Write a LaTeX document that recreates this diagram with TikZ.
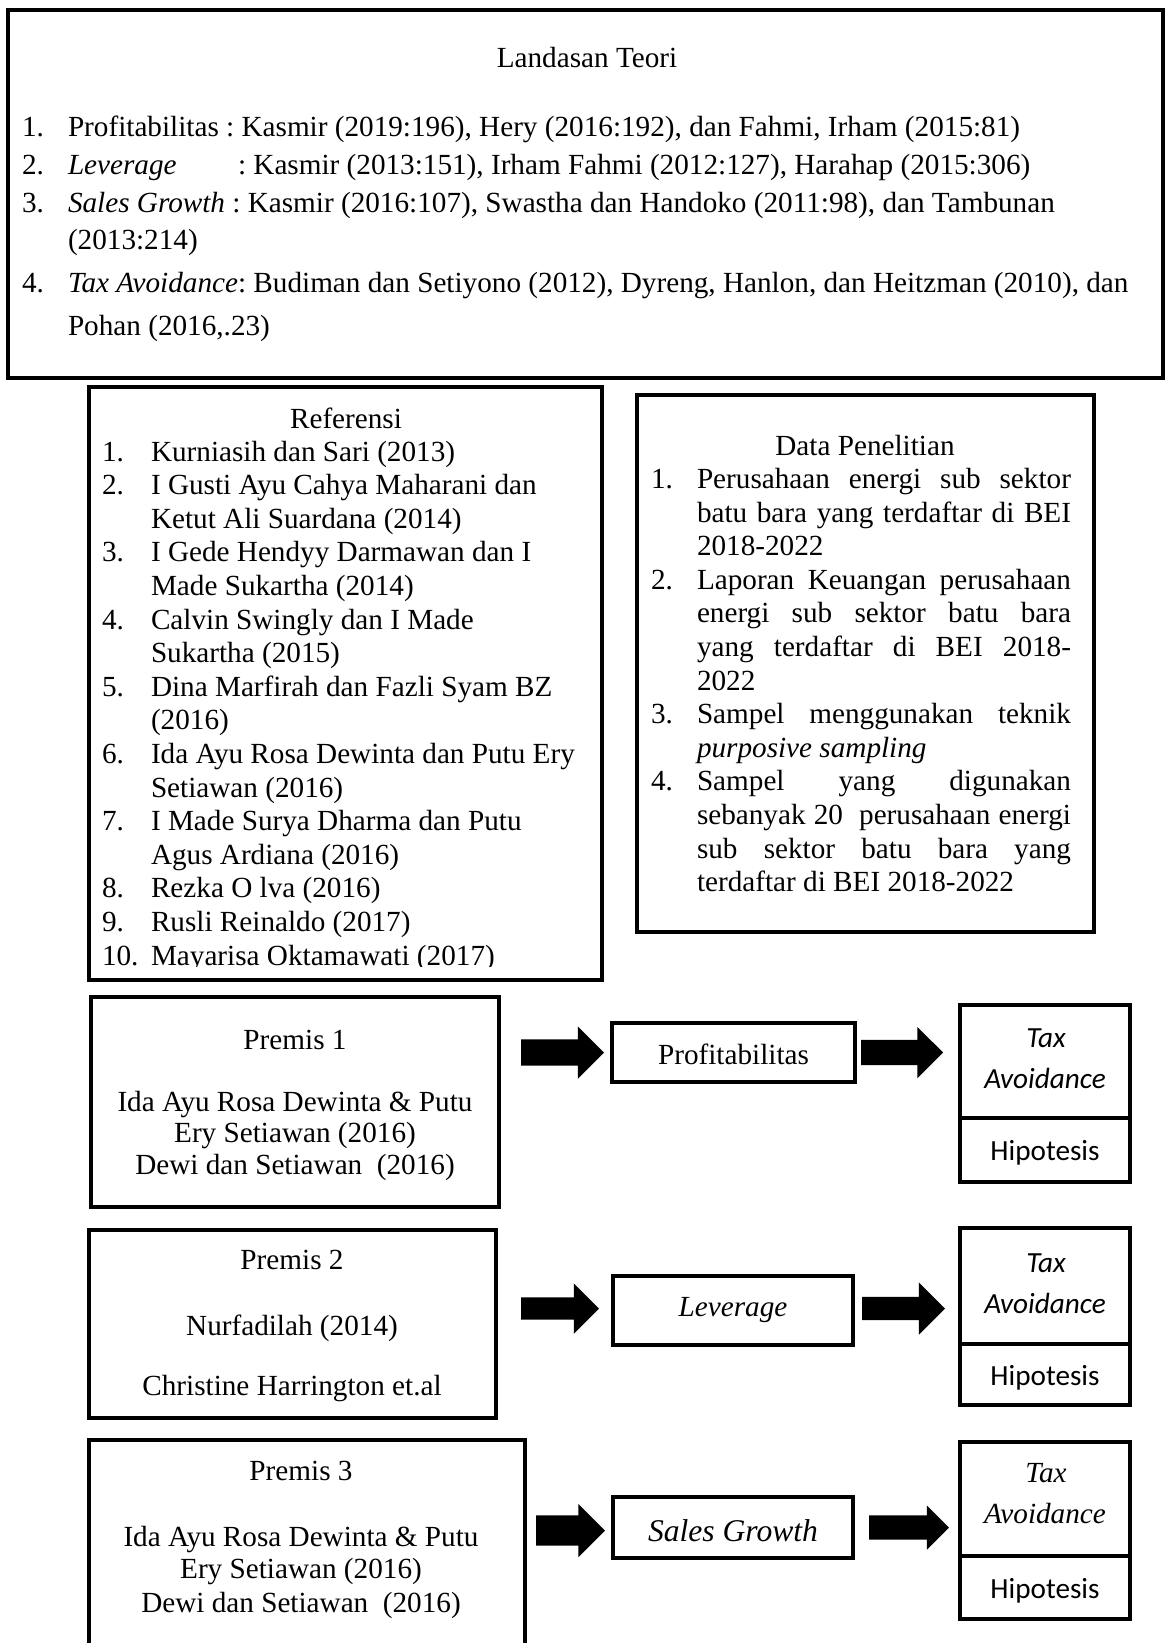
\documentclass[tikz,border=0pt]{standalone}
\usepackage{fontspec}
\setmainfont{Liberation Serif}
\newfontfamily\calib{Carlito}
\usetikzlibrary{shapes.arrows,calc}
\newcommand\jline[1]{\makebox[374pt][s]{#1}}
\frenchspacing
\begin{document}
\frenchspacing
\begin{tikzpicture}[x=1pt,y=-1pt,
  every node/.style={inner sep=0pt, outer sep=0pt, font=\fontsize{29.2}{33.6}\selectfont},
  box/.style={draw, line width=4.5pt, anchor=north west},
  txt/.style={anchor=base west},
  ctxt/.style={anchor=base},
  barrow/.style={single arrow, fill=black, draw=none, inner sep=0pt, anchor=tip, shape border rotate=0}]
\fill[white] (0,0) rectangle (1165,1643);
\useasboundingbox (0,0) rectangle (1165,1643);

% ---------- Landasan Teori ----------
\node[box, minimum width=1155pt, minimum height=368pt] (top) at (8,10) {};
\node[ctxt] (lt) at (587,68) {Landasan Teori};
\node[txt] (tn1) at (22,136) {1.};
\node[txt] (tl1) at (68,136) {Profitabilitas : Kasmir (2019:196), Hery (2016:192), dan Fahmi, Irham (2015:81)};
\node[txt] (tn2) at (22,174) {2.};
\node[txt] (tl2) at (68,174) {\textit{Leverage}};
\node[txt] (tl2b) at (238,174) {: Kasmir (2013:151), Irham Fahmi (2012:127), Harahap (2015:306)};
\node[txt] (tn3) at (22,212) {3.};
\node[txt] (tl3) at (68,212) {\textit{Sales Growth} : Kasmir (2016:107), Swastha dan Handoko (2011:98), dan Tambunan};
\node[txt] (tl3b) at (68,249) {(2013:214)};
\node[txt] (tn4) at (22,292) {4.};
\node[txt] (tl4) at (68,292) {\textit{Tax Avoidance}: Budiman dan Setiyono (2012), Dyreng, Hanlon, dan Heitzman (2010), dan};
\node[txt] (tl4b) at (68,335) {Pohan (2016,.23)};

% ---------- Referensi ----------
\node[box, minimum width=513pt, minimum height=593pt] (ref) at (89,387) {};
\node[ctxt] (refh) at (346,428) {Referensi};
\begin{scope}
\clip (89,387) rectangle (602,966);
\foreach \nm/\tx [count=\i from 0] in {
  {1.}/{Kurniasih dan Sari (2013)},
  {2.}/{I Gusti Ayu Cahya Maharani dan},
  {}/{Ketut Ali Suardana (2014)},
  {3.}/{I Gede Hendyy Darmawan dan I},
  {}/{Made Sukartha (2014)},
  {4.}/{Calvin Swingly dan I Made},
  {}/{Sukartha (2015)},
  {5.}/{Dina Marfirah dan Fazli Syam BZ},
  {}/{(2016)},
  {6.}/{Ida Ayu Rosa Dewinta dan Putu Ery},
  {}/{Setiawan (2016)},
  {7.}/{I Made Surya Dharma dan Putu},
  {}/{Agus Ardiana (2016)},
  {8.}/{Rezka O lva (2016)},
  {9.}/{Rusli Reinaldo (2017)},
  {10.}/{Mayarisa Oktamawati (2017)}}
{
  \node[txt] (rn\i) at (102,{461+33.6*\i}) {\nm};
  \node[txt] (rt\i) at (151,{461+33.6*\i}) {\tx};
}
\end{scope}

% ---------- Data Penelitian ----------
\node[box, minimum width=457pt, minimum height=537pt] (data) at (637,395) {};
\node[ctxt] (datah) at (865,455) {Data Penelitian};
\foreach \nm/\tx [count=\i from 0] in {
  {1.}/{\jline{Perusahaan energi sub sektor}},
  {}/{\jline{batu bara yang terdaftar di BEI}},
  {}/{2018-2022},
  {2.}/{\jline{Laporan Keuangan perusahaan}},
  {}/{\jline{energi sub sektor batu bara}},
  {}/{\jline{yang terdaftar di BEI 2018-}},
  {}/{2022},
  {3.}/{\jline{Sampel menggunakan teknik}},
  {}/{\textit{purposive sampling}},
  {4.}/{\jline{Sampel yang digunakan}},
  {}/{\jline{sebanyak 20\ \ perusahaan energi}},
  {}/{\jline{sub sektor batu bara yang}},
  {}/{terdaftar di BEI 2018-2022}}
{
  \node[txt] (dn\i) at (651,{488.5+33.6*\i}) {\nm};
  \node[txt] (dt\i) at (697,{488.5+33.6*\i}) {\tx};
}

% ---------- Row 1 ----------
\node[box, minimum width=408pt, minimum height=210pt] (p1) at (91,997) {};
\node[ctxt] (p1a) at (295,1049) {Premis 1};
\node[ctxt] (p1b) at (295,1111) {Ida Ayu Rosa Dewinta \& Putu};
\node[ctxt] (p1c) at (295,1142) {Ery Setiawan (2016)};
\node[ctxt] (p1d) at (295,1174) {Dewi dan Setiawan\ \ (2016)};
\node[box, minimum width=243pt, minimum height=59pt] (v1) at (612,1023) {};
\node (v1t) at ($(v1.center)+(0,2)$) {Profitabilitas};
\node[box, minimum width=170pt, minimum height=113pt] (t1) at (960,1005) {};
\node[box, minimum width=170pt, minimum height=64pt] (h1) at (960,1118) {};
\node (h1t) at ($(h1.center)+(0,3)$) {\calib Hipotesis};
\node[ctxt] (t1a) at (1046,1047) {\calib\itshape Tax};
\node[ctxt] (t1b) at (1045,1088) {\calib\itshape Avoidance};
\node[barrow, minimum height=83pt, single arrow head extend=13pt] (a1) at ($(v1.west)+(-8,0)$) {\rule[-13pt]{0pt}{26pt}};
\node[barrow, minimum height=82pt, single arrow head extend=13pt] (b1) at ($(v1.west -| t1.west)+(-17,0)$) {\rule[-12.5pt]{0pt}{25pt}};

% ---------- Row 2 ----------
\node[box, minimum width=407pt, minimum height=188pt] (p2) at (89,1230) {};
\node[ctxt] (p2a) at (292,1269) {Premis 2};
\node[ctxt] (p2b) at (292,1335) {Nurfadilah (2014)};
\node[ctxt] (p2c) at (292,1395) {Christine Harrington et.al};
\node[box, minimum width=240pt, minimum height=69pt] (v2) at (613,1276) {\itshape Leverage};
\node[box, minimum width=170pt, minimum height=116pt] (t2) at (960,1228) {};
\node[box, minimum width=170pt, minimum height=61pt] (h2) at (960,1344) {};
\node (h2t) at ($(h2.center)+(0,3)$) {\calib Hipotesis};
\node[ctxt] (t2a) at (1046,1272) {\calib\itshape Tax};
\node[ctxt] (t2b) at (1045,1313) {\calib\itshape Avoidance};
\node[barrow, minimum height=78pt, single arrow head extend=14pt] (a2) at ($(v2.west)+(-14,-2)$) {\rule[-11pt]{0pt}{22pt}};
\node[barrow, minimum height=83pt, single arrow head extend=14.5pt] (b2) at ($(v2.west -| t2.west)+(-15,-2)$) {\rule[-11.5pt]{0pt}{23pt}};

% ---------- Row 3 ----------
\node[box, minimum width=436pt, minimum height=240pt] (p3) at (89,1440) {};
\node[ctxt] (p3a) at (301,1480) {Premis 3};
\node[ctxt] (p3b) at (301,1546) {Ida Ayu Rosa Dewinta \& Putu};
\node[ctxt] (p3c) at (301,1578) {Ery Setiawan (2016)};
\node[ctxt] (p3d) at (301,1612) {Dewi dan Setiawan\ \ (2016)};
\node[box, minimum width=240pt, minimum height=61pt] (v3) at (613,1497) {};
\node (v3t) at ($(v3.center)+(0,3)$) {\fontsize{31.6}{36}\selectfont\itshape Sales Growth};
\node[box, minimum width=170pt, minimum height=114pt] (t3) at (960,1442) {};
\node[box, minimum width=170pt, minimum height=63pt] (h3) at (960,1556) {};
\node (h3t) at ($(h3.center)+(0,3)$) {\calib Hipotesis};
\node[ctxt] (t3a) at (1046,1482) {\itshape Tax};
\node[ctxt] (t3b) at (1045,1523) {\itshape Avoidance};
\node[barrow, minimum height=69pt, single arrow head extend=11.5pt] (a3) at ($(v3.west)+(-8,3)$) {\rule[-15pt]{0pt}{30pt}};
\node[barrow, minimum height=80pt, single arrow head extend=10pt] (b3) at ($(v3.west -| t3.west)+(-11,0)$) {\rule[-12pt]{0pt}{24pt}};
\end{tikzpicture}
\end{document}
